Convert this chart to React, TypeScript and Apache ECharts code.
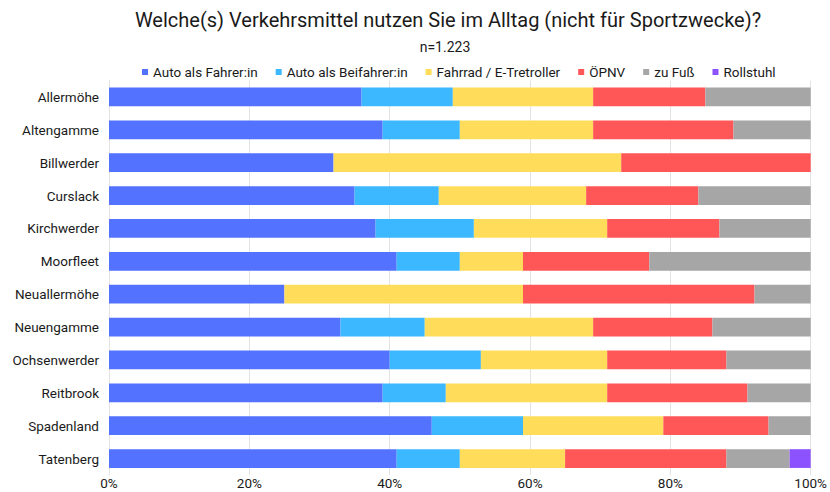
import React, { useEffect, useRef } from "react";
import * as echarts from "echarts";

const categories = [
  "Allermöhe", "Altengamme", "Billwerder", "Curslack", "Kirchwerder", "Moorfleet",
  "Neuallermöhe", "Neuengamme", "Ochsenwerder", "Reitbrook", "Spadenland", "Tatenberg",
];
const seriesNames = ["Auto als Fahrer:in", "Auto als Beifahrer:in", "Fahrrad / E-Tretroller", "ÖPNV", "zu Fuß", "Rollstuhl"];
const autoFahrer = [36, 39, 32, 35, 38, 41, 25, 33, 40, 39, 46, 41];
const autoBeifahrer = [13, 11, 0, 12, 14, 9, 0, 12, 13, 9, 13, 9];
const fahrrad = [20, 19, 41, 21, 19, 9, 34, 24, 18, 23, 20, 15];
const oepnv = [16, 20, 27, 16, 16, 18, 33, 17, 17, 20, 15, 23];
const zuFuss = [15, 11, 0, 16, 13, 23, 8, 14, 12, 9, 6, 9];
const rollstuhl = [0, 0, 0, 0, 0, 0, 0, 0, 0, 0, 0, 3];
const colors = ["#5372FF", "#3BB8FF", "#FFDD5A", "#FF5757", "#A6A6A6", "#8C52FF"];
const xTicks = [0, 20, 40, 60, 80, 100];

export default function App() {
  const ref = useRef<HTMLDivElement>(null);
  useEffect(() => {
    if (!ref.current) return;
    const chart = echarts.init(ref.current, null, { renderer: "svg" });
    const data = [autoFahrer, autoBeifahrer, fahrrad, oepnv, zuFuss, rollstuhl];
    chart.setOption({
      animation: false,
      textStyle: { fontFamily: "Roboto" },
      title: [
        {
          text: "Welche(s) Verkehrsmittel nutzen Sie im Alltag (nicht für Sportzwecke)?",
          left: 443,
          top: 5,
          textAlign: "center",
          textStyle: { fontFamily: "Roboto", fontSize: 20, fontWeight: "normal", color: "#1a1a1a" },
        },
        {
          text: "n=1.223",
          left: 440,
          top: 35,
          textAlign: "center",
          textStyle: { fontFamily: "Roboto", fontSize: 14, fontWeight: "normal", color: "#1a1a1a" },
        },
      ],
      legend: {
        data: seriesNames,
        left: 142,
        top: 65,
        padding: 0,
        icon: "rect",
        itemWidth: 6,
        itemHeight: 6,
        itemGap: 18,
        textStyle: { fontFamily: "Roboto", fontSize: 13.5, color: "#1a1a1a" },
      },
      grid: { left: 109, right: 16, top: 80.5, bottom: 17, containLabel: false },
      xAxis: {
        type: "value",
        min: 0,
        max: 100,
        interval: 20,
        axisLabel: {
          formatter: (v: number) => (xTicks.includes(v) ? v + "%" : ""),
          fontFamily: "Roboto",
          fontSize: 13.5,
          color: "#1a1a1a",
          margin: 1,
        },
        splitLine: { show: true, lineStyle: { color: "#E3E3E3" } },
        axisLine: { show: false },
        axisTick: { show: false },
      },
      yAxis: {
        type: "category",
        data: categories,
        inverse: true,
        axisLabel: { fontFamily: "Roboto", fontSize: 13.5, color: "#1a1a1a", margin: 10 },
        axisLine: { show: true, lineStyle: { color: "#E3E3E3" } },
        axisTick: { show: false },
      },
      series: seriesNames.map((name, i) => ({
        name,
        type: "bar",
        stack: "total",
        barWidth: "57%",
        data: data[i].map((v) => (v === 0 ? null : v)),
        itemStyle: { color: colors[i] },
      })),
    });
    return () => chart.dispose();
  }, []);
  return <div ref={ref} style={{ width: 830, height: 492, position: "absolute", left: 0, top: 0 }} />;
}
